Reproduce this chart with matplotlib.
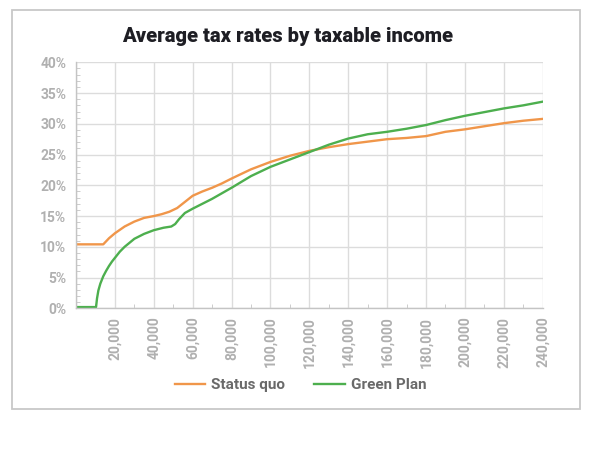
import matplotlib
matplotlib.use("Agg")
import matplotlib.pyplot as plt
from matplotlib.patches import Rectangle
from matplotlib.ticker import MultipleLocator, FuncFormatter

# ---- data (taxable income, average tax rate %) ----
sq_income = [0, 14000, 17000, 20000, 25000, 30000, 35000, 40000, 44000, 48000,
             52000, 56000, 60000, 65000, 70000, 75000, 80000, 90000, 100000,
             110000, 120000, 130000, 140000, 150000, 160000, 170000, 180000,
             190000, 200000, 210000, 220000, 230000, 240000]
sq_rate = [10.4, 10.4, 11.4, 12.2, 13.3, 14.1, 14.7, 15.0, 15.3, 15.7,
           16.3, 17.3, 18.3, 19.0, 19.6, 20.3, 21.1, 22.6, 23.8,
           24.8, 25.6, 26.2, 26.7, 27.1, 27.5, 27.7, 28.0,
           28.7, 29.1, 29.6, 30.1, 30.5, 30.8]

gp_income = [0, 10300, 10800, 11500, 12500, 14000, 15500, 17000, 18500, 20000,
             22500, 25000, 30000, 35000, 40000, 45000, 49000, 51000, 53000,
             56000, 60000, 70000, 80000, 90000, 100000, 110000, 120000, 130000,
             140000, 150000, 160000, 170000, 180000, 190000, 200000, 210000,
             220000, 230000, 240000]
gp_rate = [0.2, 0.2, 1.6, 2.9, 4.0, 5.2, 6.1, 6.9, 7.6, 8.2,
           9.2, 10.0, 11.3, 12.1, 12.7, 13.1, 13.3, 13.7, 14.5,
           15.5, 16.2, 17.8, 19.6, 21.5, 23.0, 24.2, 25.4, 26.6,
           27.6, 28.3, 28.7, 29.2, 29.8, 30.6, 31.3, 31.9,
           32.5, 33.0, 33.6]

labels = ["Status quo", "Green Plan"]
colors = ["#F0964A", "#4DAF4E"]

plt.rcParams["font.family"] = ["Roboto", "DejaVu Sans"]

fig = plt.figure(figsize=(5.92, 4.76), dpi=100)
ax = fig.add_axes([0.1284, 0.3523, 0.7883, 0.5168])

ax.plot(sq_income, sq_rate, color=colors[0], lw=1.7, label=labels[0])
ax.plot(gp_income, gp_rate, color=colors[1], lw=1.7, label=labels[1])

ax.set_xlim(0, 240000)
ax.set_ylim(0, 40)
ax.xaxis.set_major_locator(MultipleLocator(20000))
ax.xaxis.set_minor_locator(MultipleLocator(10000))
ax.yaxis.set_major_locator(MultipleLocator(5))
ax.yaxis.set_minor_locator(MultipleLocator(1))
ax.xaxis.set_major_formatter(FuncFormatter(lambda v, p: "" if v == 0 else f"{int(v):,}"))
ax.yaxis.set_major_formatter(FuncFormatter(lambda v, p: f"{int(v)}%"))

ax.grid(True, which="major", color="#dcdcdc", lw=1)
ax.set_axisbelow(True)
for side in ["top", "right"]:
    ax.spines[side].set_visible(False)
for side in ["left", "bottom"]:
    ax.spines[side].set_color("#c4c4c4")
    ax.spines[side].set_linewidth(1)

ax.tick_params(axis="both", which="major", length=0, colors="#b0b0b0", labelsize=10)
ax.tick_params(axis="both", which="minor", length=3, direction="in", color="#c4c4c4")
ax.tick_params(axis="y", which="major", pad=7)
ax.tick_params(axis="x", which="major", pad=6, labelrotation=90)
for t in ax.get_xticklabels() + ax.get_yticklabels():
    t.set_fontweight("bold")

fig.text(0.4865, 0.923, "Average tax rates by taxable income", ha="center", va="center",
         fontsize=14.5, fontweight="black", color="#1e1e24")

fig.legend(loc="center", bbox_to_anchor=(0.508, 0.191), ncol=2, frameon=False,
           prop={"size": 11, "weight": "bold"}, labelcolor="#6a6a6a",
           handlelength=2.0, handletextpad=0.4, columnspacing=1.9)

# light grey frame around the whole graphic
fig.patches.append(Rectangle((12 / 592, 1 - 409 / 476), 568 / 592, 399 / 476,
                             transform=fig.transFigure, fill=False,
                             edgecolor="#c8c8c8", lw=1.3))

fig.savefig("out.png", dpi=100)
